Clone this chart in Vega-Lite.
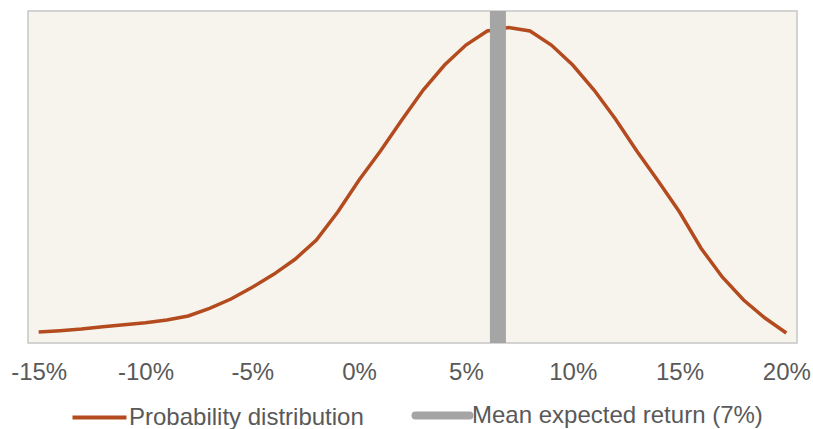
{
  "$schema": "https://vega.github.io/schema/vega-lite/v6.json",
  "width": 769,
  "height": 332,
  "autosize": "none",
  "padding": {"left": 28, "top": 11, "right": 16, "bottom": 86},
  "background": "#FFFFFF",
  "config": {
    "view": {"fill": "#F7F4EE", "stroke": "#C6C6C6", "strokeWidth": 1.5},
    "font": "Liberation Sans"
  },
  "datasets": {
    "curve": [
      {"ret": -0.15, "density": 0.00298, "series": "Probability distribution"},
      {"ret": -0.14, "density": 0.00333, "series": "Probability distribution"},
      {"ret": -0.13, "density": 0.0038, "series": "Probability distribution"},
      {"ret": -0.12, "density": 0.00442, "series": "Probability distribution"},
      {"ret": -0.11, "density": 0.00496, "series": "Probability distribution"},
      {"ret": -0.10, "density": 0.0055, "series": "Probability distribution"},
      {"ret": -0.09, "density": 0.00623, "series": "Probability distribution"},
      {"ret": -0.08, "density": 0.00732, "series": "Probability distribution"},
      {"ret": -0.07, "density": 0.00941, "series": "Probability distribution"},
      {"ret": -0.06, "density": 0.01193, "series": "Probability distribution"},
      {"ret": -0.05, "density": 0.0151, "series": "Probability distribution"},
      {"ret": -0.04, "density": 0.01862, "series": "Probability distribution"},
      {"ret": -0.03, "density": 0.02269, "series": "Probability distribution"},
      {"ret": -0.02, "density": 0.02792, "series": "Probability distribution"},
      {"ret": -0.01, "density": 0.03551, "series": "Probability distribution"},
      {"ret": 0.00, "density": 0.04419, "series": "Probability distribution"},
      {"ret": 0.01, "density": 0.05205, "series": "Probability distribution"},
      {"ret": 0.02, "density": 0.06045, "series": "Probability distribution"},
      {"ret": 0.03, "density": 0.06858, "series": "Probability distribution"},
      {"ret": 0.04, "density": 0.07536, "series": "Probability distribution"},
      {"ret": 0.05, "density": 0.08078, "series": "Probability distribution"},
      {"ret": 0.06, "density": 0.08458, "series": "Probability distribution"},
      {"ret": 0.07, "density": 0.08553, "series": "Probability distribution"},
      {"ret": 0.08, "density": 0.08458, "series": "Probability distribution"},
      {"ret": 0.09, "density": 0.08078, "series": "Probability distribution"},
      {"ret": 0.10, "density": 0.07536, "series": "Probability distribution"},
      {"ret": 0.11, "density": 0.06858, "series": "Probability distribution"},
      {"ret": 0.12, "density": 0.06072, "series": "Probability distribution"},
      {"ret": 0.13, "density": 0.05205, "series": "Probability distribution"},
      {"ret": 0.14, "density": 0.04392, "series": "Probability distribution"},
      {"ret": 0.15, "density": 0.03551, "series": "Probability distribution"},
      {"ret": 0.16, "density": 0.02575, "series": "Probability distribution"},
      {"ret": 0.17, "density": 0.01789, "series": "Probability distribution"},
      {"ret": 0.18, "density": 0.01166, "series": "Probability distribution"},
      {"ret": 0.19, "density": 0.00678, "series": "Probability distribution"},
      {"ret": 0.20, "density": 0.00271, "series": "Probability distribution"}
    ],
    "mean": [
      {"ret": 0.065, "series": "Mean expected return (7%)"}
    ]
  },
  "encoding": {
    "x": {
      "field": "ret",
      "type": "quantitative",
      "scale": {"domain": [-0.155, 0.205], "nice": false, "zero": false},
      "axis": {
        "values": [-0.15, -0.10, -0.05, 0, 0.05, 0.10, 0.15, 0.20],
        "labelExpr": "(datum.value < 0 ? '-' : '') + format(abs(datum.value), '.0%')",
        "title": null,
        "domain": false,
        "ticks": false,
        "grid": false,
        "labelPadding": 17,
        "labelFontSize": 24,
        "labelColor": "#595959",
        "labelFont": "Liberation Sans",
        "labelFlush": false,
        "labelOverlap": false
      }
    },
    "color": {
      "field": "series",
      "type": "nominal",
      "scale": {
        "domain": ["Probability distribution", "Mean expected return (7%)"],
        "range": ["#B34B1F", "#A5A5A5"]
      },
      "legend": {
        "title": null,
        "orient": "none",
        "direction": "horizontal",
        "legendX": 59.5,
        "legendY": 392.5,
        "padding": 0,
        "symbolType": "stroke",
        "symbolSize": 2916,
        "labelFontSize": 24,
        "labelColor": "#595959",
        "labelFont": "Liberation Sans",
        "labelOffset": 17.5,
        "labelLimit": 0,
        "columnPadding": 35,
        "encode": {
          "symbols": {
            "update": {
              "strokeWidth": {"signal": "datum.value === 'Probability distribution' ? 4 : 8"},
              "strokeCap": {"signal": "datum.value === 'Probability distribution' ? 'butt' : 'round'"}
            }
          }
        }
      }
    }
  },
  "layer": [
    {
      "data": {"name": "curve"},
      "mark": {"type": "line", "strokeWidth": 3.5, "interpolate": "linear"},
      "encoding": {
        "y": {
          "field": "density",
          "type": "quantitative",
          "scale": {"domain": [0, 0.09], "nice": false, "zero": true},
          "axis": null
        }
      }
    },
    {
      "data": {"name": "mean"},
      "mark": {"type": "rule", "strokeWidth": 16},
      "encoding": {}
    }
  ]
}
